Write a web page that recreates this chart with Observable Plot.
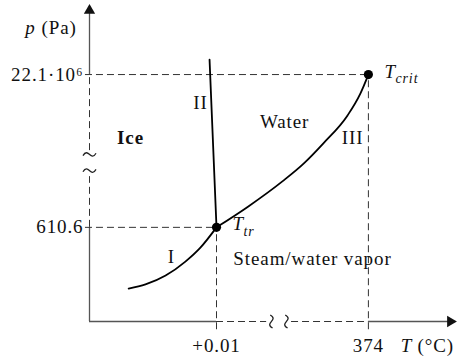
<!DOCTYPE html>
<html><head><meta charset="utf-8">
<script src="https://cdn.jsdelivr.net/npm/d3@7"></script>
<script src="https://cdn.jsdelivr.net/npm/@observablehq/plot@0.6"></script>
<style>body{margin:0;background:#fff} svg text{font-family:"Liberation Serif",serif;letter-spacing:0.9px}</style>
</head><body><div id="chart"></div>
<script>
// Schematic phase diagram of water, broken axes, schematic units 0..100 on both axes
const curveI_T = [10.7, 15.3, 20.8, 26.2, 30.3, 34.7];
const curveI_p = [10.4, 11.7, 14.5, 18.9, 23.3, 29.7];
const curveII_T = [32.8, 34.7];
const curveII_p = [82.6, 29.7];
const curveIII_T = [34.7, 43.4, 52.7, 58.5, 63.9, 70.5, 74.0, 76.2];
const curveIII_p = [29.7, 36.3, 44.2, 49.8, 56.2, 65.0, 71.9, 77.9];
const pointNames = ["tr", "crit"];
const pointT = [34.7, 76.2];
const pointP = [29.7, 77.9];
const xTickLabels = ["+0.01", "374"];
const yTickLabels = ["610.6", "22.1·10⁶"];
const yBreak = [45.7, 53.9];   // gap in p axis
const yBreakMarks = [47.6, 52.7];
const xBreak = [48.4, 55.2];   // gap in T axis
const xBreakMarks = [49.7, 53.8];
const axisEnd = [98.6, 98.1];  // T arrow, p arrow
const regionNames = ["Ice", "Water", "Steam/water vapor"];
const regionT = [11.2, 53.3, 39.3];
const regionP = [58.0, 63.1, 19.6];
const curveNames = ["I", "II", "III"];
const curveLabelT = [22.4, 30.3, 71.9];
const curveLabelP = [20.5, 69.1, 58.0];

const zip = (xs, ys) => xs.map((x, i) => ({x, y: ys[i]}));
const points = pointNames.map((n, i) => ({name: n, x: pointT[i], y: pointP[i]}));

// tilde-shaped symbol for the axis breaks
const tilde = {
  draw(ctx, size) {
    const w = Math.sqrt(size / Math.PI), a = w * 0.36;
    ctx.moveTo(-w, a * 0.5);
    ctx.bezierCurveTo(-w * 0.6, -a * 1.5, -w * 0.25, -a * 0.6, 0, 0);
    ctx.bezierCurveTo(w * 0.25, a * 0.6, w * 0.6, a * 1.5, w, -a * 0.5);
  }
};

const dash = "7,4";
const axisColor = "#555";
const F = "'Liberation Serif', serif";
const FS = 19;

const chart = Plot.plot({
  width: 457, height: 358,
  marginLeft: 89, marginRight: 2, marginTop: 4, marginBottom: 37,
  x: {domain: [0, 100], axis: null},
  y: {domain: [0, 100], axis: null},
  style: {fontFamily: F, fontSize: FS + "px", background: "#fff", overflow: "visible", color: "#111"},
  marks: [
    // axes: solid parts
    Plot.ruleX([{x: 0, y1: 0, y2: pointP[0]}, {x: 0, y1: pointP[1], y2: axisEnd[1]}],
      {x: "x", y1: "y1", y2: "y2", stroke: axisColor, strokeWidth: 1.3}),
    Plot.ruleY([{y: 0, x1: 0, x2: pointT[0]}, {y: 0, x1: pointT[1], x2: axisEnd[0]}],
      {y: "y", x1: "x1", x2: "x2", stroke: axisColor, strokeWidth: 1.3}),
    // axes: dashed (broken) parts
    Plot.ruleX([{x: 0, y1: pointP[0], y2: yBreak[0]}, {x: 0, y1: yBreak[1], y2: pointP[1]}],
      {x: "x", y1: "y1", y2: "y2", stroke: "#333", strokeWidth: 1, strokeDasharray: dash}),
    Plot.ruleY([{y: 0, x1: pointT[0], x2: xBreak[0]}, {y: 0, x1: xBreak[1], x2: pointT[1]}],
      {y: "y", x1: "x1", x2: "x2", stroke: "#333", strokeWidth: 1, strokeDasharray: dash}),
    // guide lines to the triple and critical points
    Plot.ruleY(points, {y: "y", x1: -1.1, x2: "x", stroke: "#333", strokeWidth: 1, strokeDasharray: dash}),
    Plot.ruleX(points, {x: "x", y1: -2.6, y2: "y", stroke: "#333", strokeWidth: 1, strokeDasharray: dash}),
    // break symbols
    Plot.dot(yBreakMarks, {x: 0, y: d => d, symbol: tilde, r: 6.5, fill: "none", stroke: "#222", strokeWidth: 1.3}),
    Plot.dot(xBreakMarks, {x: d => d, y: 0, symbol: tilde, r: 6.5, rotate: 90, fill: "none", stroke: "#222", strokeWidth: 1.3}),
    // arrow heads
    Plot.dot([{x: axisEnd[0], y: 0, r: 90}, {x: 0, y: axisEnd[1], r: 0}],
      {x: "x", y: "y", rotate: "r", symbol: "triangle", r: 4.2, fill: "#111", stroke: "none"}),
    // phase boundaries
    Plot.line(zip(curveI_T, curveI_p), {x: "x", y: "y", curve: "monotone-x", stroke: "#000", strokeWidth: 1.8}),
    Plot.line(zip(curveII_T, curveII_p), {x: "x", y: "y", stroke: "#000", strokeWidth: 1.8}),
    Plot.line(zip(curveIII_T, curveIII_p), {x: "x", y: "y", curve: "monotone-x", stroke: "#000", strokeWidth: 1.8}),
    Plot.dot(points, {x: "x", y: "y", r: 4.6, fill: "#000"}),
    // tick labels
    Plot.text(xTickLabels, {x: (d, i) => pointT[i], y: 0, dy: 24, text: d => d, fontFamily: F}),
    Plot.text(yTickLabels, {x: 0, y: (d, i) => pointP[i], dx: -6, textAnchor: "end", text: d => d, fontFamily: F}),
    // axis titles
    Plot.text(["p"], {x: -16.1, y: 92.7, text: d => d, fontStyle: "italic", fontFamily: F}),
    Plot.text(["(Pa)"], {x: -13.1, y: 92.7, text: d => d, textAnchor: "start", fontFamily: F}),
    Plot.text(["T"], {x: 86.6, y: 0, dy: 24, text: d => d, fontStyle: "italic", fontFamily: F}),
    Plot.text(["(°C)"], {x: 89.6, y: 0, dy: 24, text: d => d, textAnchor: "start", fontFamily: F}),
    // point labels
    Plot.text(points, {x: "x", y: "y", text: () => "T", fontStyle: "italic", textAnchor: "start",
      dx: 16, dy: -3, fontFamily: F}),
    Plot.text(points, {x: "x", y: "y", text: "name", fontStyle: "italic", fontSize: 14,
      textAnchor: "start", dx: 27, dy: 4, fontFamily: F}),
    // region labels
    Plot.text([regionNames[0]], {x: regionT[0], y: regionP[0], text: d => d, fontWeight: "bold", fontFamily: F}),
    Plot.text([regionNames[1]], {x: regionT[1], y: regionP[1], text: d => d, fontFamily: F}),
    Plot.text([regionNames[2]], {x: regionT[2], y: regionP[2], text: d => d, textAnchor: "start", fontFamily: F}),
    Plot.text(curveNames, {x: (d, i) => curveLabelT[i], y: (d, i) => curveLabelP[i], text: d => d, fontFamily: F})
  ]
});
document.getElementById("chart").appendChild(chart);
</script>
</body></html>
